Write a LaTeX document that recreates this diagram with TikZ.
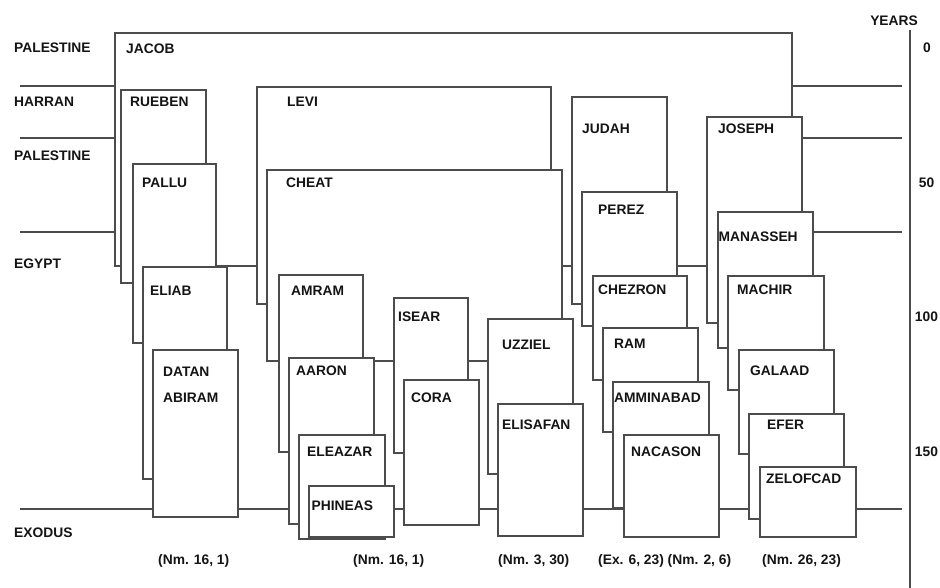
\documentclass[tikz,border=0pt]{standalone}
\usepackage{fontspec}
\setmainfont{Liberation Sans}
\newcommand\genbox[8]{%
  \draw[gbox] (#1,#2) rectangle (#3,#4);
  \node[lbl] (#5) at (#7,#8) {#6};}
\begin{document}
\begin{tikzpicture}[x=1pt,y=-1pt,
  ln/.style={draw=black!70,line width=1.1pt},
  gbox/.style={draw=black!70,line width=1.1pt,fill=white},
  lbl/.style={anchor=west,inner sep=0pt,font=\fontsize{13.8}{16}\selectfont\bfseries,text=black!92},
  yr/.style={inner sep=0pt,font=\fontsize{13.8}{16}\selectfont\bfseries,text=black!92}]
\useasboundingbox (0,0) rectangle (940,588);
% era lines
\coordinate (h1a) at (20,86);  \coordinate (h1b) at (902,86);
\coordinate (h2a) at (20,138); \coordinate (h2b) at (902,138);
\coordinate (h3a) at (20,232); \coordinate (h3b) at (902,232);
\coordinate (h4a) at (20,509); \coordinate (h4b) at (902,509);
\draw[ln] (h1a) -- (h1b);
\draw[ln] (h2a) -- (h2b);
\draw[ln] (h3a) -- (h3b);
\draw[ln] (h4a) -- (h4b);
% years axis
\coordinate (ya) at (910,30); \coordinate (yb) at (910,588);
\draw[ln] (ya) -- (yb);
\node[yr,anchor=east] (years) at (918,21) {YEARS};
\node[yr] (y0) at (927,48) {0};
\node[yr] (y50) at (926.5,183) {50};
\node[yr] (y100) at (926.5,317) {100};
\node[yr] (y150) at (926.5,452) {150};
% places
\node[lbl] (p1) at (14,48) {PALESTINE};
\node[lbl] (p2) at (14,102) {HARRAN};
\node[lbl] (p3) at (14,156) {PALESTINE};
\node[lbl] (p4) at (14,264) {EGYPT};
\node[lbl] (p5) at (14,533) {EXODUS};
% boxes
\genbox{115}{33}{792}{266}{jacob}{JACOB}{126}{49}
\genbox{121}{90}{206}{283}{rueben}{RUEBEN}{130}{102}
\genbox{133}{164}{216}{343}{pallu}{PALLU}{142}{183}
\genbox{143}{267}{227}{479}{eliab}{ELIAB}{150}{291}
\genbox{153}{350}{238}{517}{datan}{DATAN}{163}{372}
\node[lbl] (abiram) at (163,398) {ABIRAM};
\genbox{257}{87}{551}{304}{levi}{LEVI}{287}{102}
\genbox{267}{170}{562}{361}{cheat}{CHEAT}{286}{183}
\genbox{279}{275}{363}{452}{amram}{AMRAM}{291}{291}
\genbox{289}{358}{374}{524}{aaron}{AARON}{296}{371}
\genbox{299}{435}{385}{539}{eleazar}{ELEAZAR}{307}{452}
\genbox{309}{486}{394}{537}{phineas}{PHINEAS}{311.5}{506}
\genbox{394}{298}{468}{453}{isear}{ISEAR}{398}{317}
\genbox{404}{380}{479}{525}{cora}{CORA}{411}{398}
\genbox{488}{319}{573}{474}{uzziel}{UZZIEL}{502}{345}
\genbox{498}{404}{583}{536}{elisafan}{ELISAFAN}{502}{425}
\genbox{572}{97}{667}{304}{judah}{JUDAH}{582}{129}
\genbox{582}{192}{677}{326}{perez}{PEREZ}{598}{210}
\genbox{593}{276}{687}{380}{chezron}{CHEZRON}{598}{290}
\genbox{603}{328}{698}{432}{ram}{RAM}{614}{344}
\genbox{613}{382}{709}{508}{amminabad}{AMMINABAD}{614}{398}
\genbox{624}{435}{719}{537}{nacason}{NACASON}{631}{452}
\genbox{707}{117}{802}{323}{joseph}{JOSEPH}{718}{129}
\genbox{718}{212}{813}{348}{manasseh}{MANASSEH}{718.5}{237}
\genbox{728}{276}{824}{390}{machir}{MACHIR}{737}{290}
\genbox{739}{350}{834}{454}{galaad}{GALAAD}{750}{371}
\genbox{749}{414}{844}{519}{efer}{EFER}{767}{425}
\genbox{760}{467}{856}{537}{zelofcad}{ZELOFCAD}{766}{479}
% citations
\node[lbl] (c1) at (158,561) {(Nm. 16, 1)};
\node[lbl] (c2) at (353,561) {(Nm. 16, 1)};
\node[lbl] (c3) at (498,561) {(Nm. 3, 30)};
\node[lbl] (c4) at (598,561) {(Ex. 6, 23) (Nm. 2, 6)};
\node[lbl] (c5) at (762,561) {(Nm. 26, 23)};
\end{tikzpicture}
\end{document}
